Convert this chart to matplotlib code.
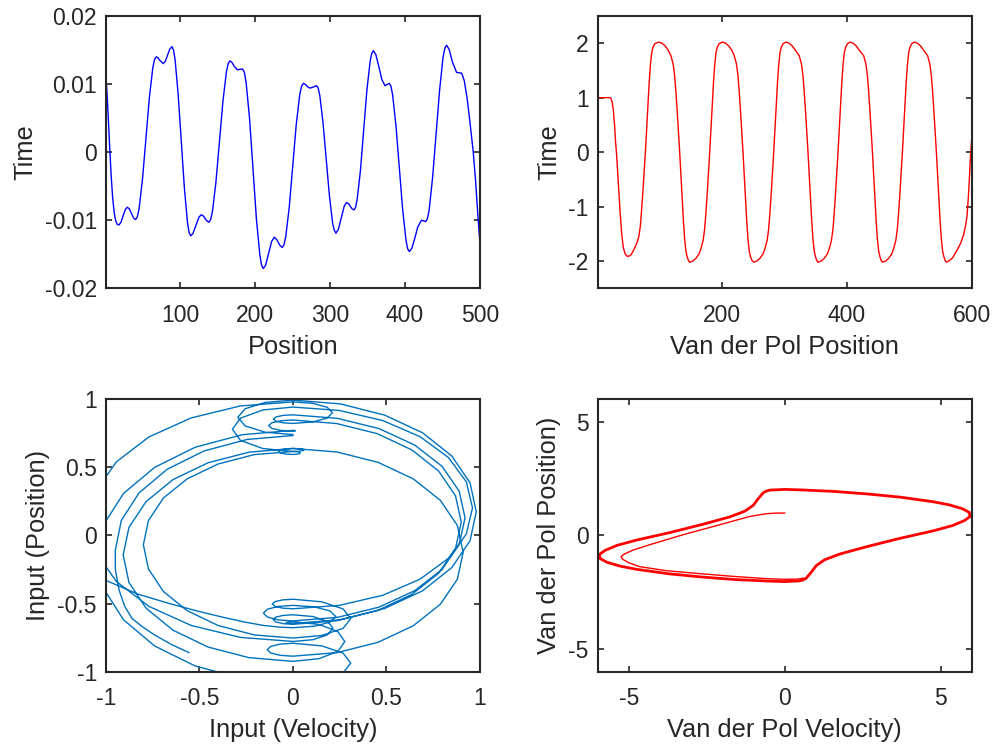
import matplotlib
matplotlib.use("Agg")
import matplotlib.pyplot as plt

plt.rcParams['font.family'] = ['Liberation Sans', 'DejaVu Sans']
plt.rcParams['axes.unicode_minus'] = False

# ---------------- data: top-left (blue time series) ----------------
tl_t = [1, 3, 5, 6.3, 8, 10, 12, 14, 16, 18.3,
        21, 24, 27, 29.4, 32, 35, 38, 40.6,
        42.9, 45.2, 49.8, 54.35, 58.9, 63.5, 65.8, 68.1,
        70.5, 73, 77.4, 80, 83, 86, 89,
        91.1, 93.2, 97.3, 101.5, 105.7, 109.8, 111.9, 114,
        117, 121, 125, 128.2, 131, 135, 138.4,
        140.7, 143.1, 147.7, 152.4, 157.1, 161.7, 164.1, 166.4,
        169, 172, 176.2, 180, 183.4,
        185.7, 188, 192.6, 197.15, 201.7, 206.3, 208.6, 210.9,
        214, 218, 222, 225.5, 229, 233, 236.2,
        238.5, 240.9, 245.6, 250.25, 254.9, 259.6, 262.0, 264.3,
        267, 270, 273.2, 277, 282,
        284.2, 286.3, 290.6, 294.9, 299.2, 303.5, 305.7, 307.8,
        311, 315, 319, 322.1, 325, 329, 331.9,
        334.1, 336.2, 340.5, 344.8, 349.1, 353.4, 355.5, 357.7,
        361, 365, 369, 373.3, 376, 379,
        381.2, 383.45, 387.9, 392.35, 396.8, 401.25, 403.5, 405.7,
        409, 413, 417, 422, 427.5,
        429.8, 432.2, 436.8, 441.5, 446.2, 450.8, 453.2, 455.5,
        459, 463, 468.8, 472, 475.6,
        479, 483, 487, 491, 494, 497, 500]
tl_v = [0.0112, 0.0075, 0.0028, 0.0, -0.0036, -0.0068, -0.0089, -0.0101, -0.0106, -0.0107,
        -0.0103, -0.0093, -0.0084, -0.0081, -0.0083, -0.0090, -0.0097, -0.0099,
        -0.0095, -0.0083, -0.0039, 0.0021, 0.0080, 0.0124, 0.0136, 0.0140,
        0.01385, 0.01346, 0.0130, 0.0133, 0.01418, 0.01509, 0.0155,
        0.0150, 0.0136, 0.0085, 0.0016, -0.0054, -0.0104, -0.0118, -0.0123,
        -0.01197, -0.01078, -0.00956, -0.0092, -0.00939, -0.01003, -0.0103,
        -0.0099, -0.0087, -0.0044, 0.0016, 0.0075, 0.0118, 0.0130, 0.0134,
        0.01319, 0.01261, 0.0121, 0.01215, 0.0122,
        0.0117, 0.0102, 0.0049, -0.0024, -0.0098, -0.0151, -0.0166, -0.0171,
        -0.01661, -0.0149, -0.01313, -0.0125, -0.01286, -0.01369, -0.0140,
        -0.0136, -0.0124, -0.0080, -0.0020, 0.0041, 0.0085, 0.0097, 0.0101,
        0.00995, 0.0096, 0.0094, 0.00954, 0.00975,
        0.0094, 0.0083, 0.0043, -0.0011, -0.0065, -0.0105, -0.0115, -0.0119,
        -0.01137, -0.00963, -0.0079, -0.0074, -0.00762, -0.00828, -0.0085,
        -0.0081, -0.0069, -0.0027, 0.0032, 0.0091, 0.0133, 0.0145, 0.0149,
        0.01435, 0.01258, 0.01068, 0.00975, 0.00992, 0.0101,
        0.0097, 0.0084, 0.0039, -0.0023, -0.0084, -0.0129, -0.0142, -0.0146,
        -0.01415, -0.01267, -0.01099, -0.0100, -0.0102,
        -0.0098, -0.0085, -0.0037, 0.0028, 0.0092, 0.0140, 0.0153, 0.0157,
        0.01505, 0.0133, 0.0117, 0.01165, 0.0116,
        0.0105, 0.0078, 0.0040, 0.0, -0.0040, -0.0090, -0.0135]

# ---------------- data: top-right (Van der Pol time series) ----------------
tr_t = [1, 10, 20, 22, 24, 26, 28, 29.8, 31, 33, 35, 37, 39.4, 42, 45, 48.5,
        53.5, 58.5, 63.4, 66.9, 69.4, 71.4, 73.4, 75.4, 77.4, 79.4, 81.4, 83.4, 85.4, 87.4, 89.4, 92.4, 99,
        104, 109, 114, 118.3, 121.8, 124.3, 126.3, 128.3, 130.3, 132.3, 134.3, 136.3, 138.3, 140.3, 142.3, 144.3, 146.3, 148.3,
        153.3, 158.3, 163.3, 166.4, 169.9, 172.4, 174.4, 176.4, 178.4, 180.4, 182.4, 184.4, 186.4, 188.4, 190.4, 192.4, 195.4, 200.8,
        205.8, 210.8, 215.8, 219.7, 223.2, 225.7, 227.7, 229.7, 231.7, 233.7, 235.7, 237.7, 239.7, 241.7, 243.7, 245.7, 248.2, 250.8,
        255.8, 260.8, 265.8, 268.9, 272.4, 274.9, 276.9, 278.9, 280.9, 282.9, 284.9, 286.9, 288.9, 290.9, 292.9, 294.9, 297.9, 302.5,
        307.5, 312.5, 317.5, 323.8, 327.3, 329.8, 331.8, 333.8, 335.8, 337.8, 339.8, 341.8, 343.8, 345.8, 347.8, 349.8, 351.8, 353.8,
        358.8, 363.8, 368.8, 371.9, 375.4, 377.9, 379.9, 381.9, 383.9, 385.9, 387.9, 389.9, 391.9, 393.9, 395.9, 397.9, 400.9, 405,
        410, 415, 420, 427, 430.5, 433, 435, 437, 439, 441, 443, 445, 447, 449, 451, 453, 455, 456.9,
        461.9, 466.9, 471.9, 475, 478.5, 481, 483, 485, 487, 489, 491, 493, 495, 497, 499, 501, 504, 508,
        513, 518, 523, 529.4, 532.9, 535.4, 537.4, 539.4, 541.4, 543.4, 545.4, 547.4, 549.4, 551.4, 553.4, 555.4, 557.4, 559.4,
        564.4, 569.4, 576.4, 582, 587, 590, 592.4, 594.5, 596.2, 597.7, 600]
tr_v = [1.0, 1.0, 1.0, 0.99, 0.93, 0.78, 0.50, 0.16, 0.0, -0.38, -0.76, -1.12, -1.50, -1.75, -1.87, -1.915,
        -1.90, -1.80, -1.68, -1.55, -1.35, -1.05, -0.72, -0.36, 0.0, 0.42, 0.86, 1.27, 1.60, 1.82, 1.92, 1.99, 2.02,
        2.00, 1.95, 1.87, 1.77, 1.62, 1.40, 1.10, 0.76, 0.38, 0.0, -0.42, -0.86, -1.27, -1.60, -1.82, -1.92, -1.99, -2.02,
        -2.00, -1.95, -1.87, -1.77, -1.62, -1.40, -1.10, -0.76, -0.38, 0.0, 0.42, 0.86, 1.27, 1.60, 1.82, 1.92, 1.99, 2.02,
        2.00, 1.95, 1.87, 1.77, 1.62, 1.40, 1.10, 0.76, 0.38, 0.0, -0.42, -0.86, -1.27, -1.60, -1.82, -1.92, -1.99, -2.02,
        -2.00, -1.95, -1.87, -1.77, -1.62, -1.40, -1.10, -0.76, -0.38, 0.0, 0.42, 0.86, 1.27, 1.60, 1.82, 1.92, 1.99, 2.02,
        2.00, 1.95, 1.87, 1.77, 1.62, 1.40, 1.10, 0.76, 0.38, 0.0, -0.42, -0.86, -1.27, -1.60, -1.82, -1.92, -1.99, -2.02,
        -2.00, -1.95, -1.87, -1.77, -1.62, -1.40, -1.10, -0.76, -0.38, 0.0, 0.42, 0.86, 1.27, 1.60, 1.82, 1.92, 1.99, 2.02,
        2.00, 1.95, 1.87, 1.77, 1.62, 1.40, 1.10, 0.76, 0.38, 0.0, -0.42, -0.86, -1.27, -1.60, -1.82, -1.92, -1.99, -2.02,
        -2.00, -1.95, -1.87, -1.77, -1.62, -1.40, -1.10, -0.76, -0.38, 0.0, 0.42, 0.86, 1.27, 1.60, 1.82, 1.92, 1.99, 2.02,
        2.00, 1.95, 1.87, 1.77, 1.62, 1.40, 1.10, 0.76, 0.38, 0.0, -0.42, -0.86, -1.27, -1.60, -1.82, -1.92, -1.99, -2.02,
        -1.99, -1.94, -1.80, -1.68, -1.52, -1.36, -1.18, -0.85, -0.50, -0.14, 0.25]

# ---------------- data: bottom-left (input phase portrait) ----------------
bl_vel = [-1.16, -1.35, -1.45, -1.43, -1.33, -1.18, -1.0, -0.83, -0.66, -0.51, -0.375, -0.26, -0.16, -0.07, 0.0,
          0.1145, 0.198, 0.229, 0.198, 0.1145, 0.0,
          -0.079, -0.137, -0.158, -0.137, -0.079, 0.0,
          0.238, 0.46, 0.651, 0.797, 0.889, 0.92, 0.889, 0.797, 0.651, 0.46, 0.238, 0.0,
          -0.0525, -0.091, -0.105, -0.091, -0.0525, 0.0,
          0.1055, 0.183, 0.211, 0.183, 0.1055, 0.0,
          -0.282, -0.545, -0.771, -0.944, -1.053, -1.09, -1.053, -0.944, -0.771, -0.545, -0.282, 0.0,
          0.107, 0.185, 0.214, 0.185, 0.107, 0.0,
          -0.053, -0.092, -0.106, -0.092, -0.053, 0.0,
          0.233, 0.45, 0.636, 0.779, 0.869, 0.90, 0.869, 0.779, 0.636, 0.45, 0.233, 0.0,
          -0.065, -0.113, -0.13, -0.113, -0.065, 0.0,
          0.007, 0.013, 0.007, 0.0,
          -0.271, -0.523, -0.740, -0.906, -1.010, -1.046, -1.010, -0.906, -0.740, -0.523, -0.271, 0.0,
          0.1545, 0.268, 0.309, 0.268, 0.1545, 0.0,
          -0.069, -0.1195, -0.138, -0.1195, -0.069, 0.0,
          0.236, 0.455, 0.643, 0.788, 0.879, 0.91, 0.879, 0.788, 0.643, 0.455, 0.236, 0.0,
          -0.0385, -0.0667, -0.077, -0.0667, -0.0385, 0.0,
          0.0195, 0.034, 0.039, 0.034, 0.0195, 0.0,
          -0.207, -0.40, -0.566, -0.693, -0.773, -0.80, -0.773, -0.693, -0.566, -0.40, -0.207, 0.0,
          0.1545, 0.268, 0.309, 0.268, 0.1545, 0.0,
          -0.0555, -0.096, -0.111, -0.096, -0.0555, 0.0,
          0.248, 0.48, 0.679, 0.831, 0.927, 0.96, 0.927, 0.831, 0.679, 0.48, 0.248, 0.0,
          -0.162, -0.281, -0.324, -0.281, -0.162, 0.0,
          0.03, 0.052, 0.06, 0.052, 0.03, 0.0,
          -0.235, -0.454, -0.642, -0.786, -0.877, -0.908, -0.877, -0.786, -0.642, -0.454, -0.235, 0.0,
          0.1385, 0.24, 0.277, 0.24, 0.1385, 0.0,
          -0.026, -0.037, -0.026, 0.0,
          0.254, 0.49, 0.693, 0.849, 0.947, 0.98, 0.947, 0.849, 0.693, 0.49, 0.254, 0.0,
          -0.1475, -0.2555, -0.295, -0.2555, -0.1475, 0.0,
          -0.01, 0.0,
          -0.246, -0.475, -0.672, -0.823, -0.918, -0.95, -0.95, -0.93, -0.90, -0.86, -0.80, -0.74, -0.65, -0.556]
bl_pos = [0.709, 0.52, 0.32, 0.14, -0.03, -0.19, -0.33, -0.43, -0.50, -0.555, -0.60, -0.635, -0.66, -0.673, -0.677,
          -0.666, -0.636, -0.595, -0.554, -0.524, -0.513,
          -0.5206, -0.5415, -0.570, -0.5985, -0.6194, -0.627,
          -0.601, -0.526, -0.405, -0.249, -0.066, 0.1295, 0.325, 0.508, 0.664, 0.785, 0.860, 0.886,
          0.8818, 0.8703, 0.8545, 0.8387, 0.8272, 0.823,
          0.8336, 0.8625, 0.902, 0.9415, 0.9704, 0.981,
          0.951, 0.863, 0.723, 0.541, 0.329, 0.1015, -0.126, -0.338, -0.520, -0.660, -0.748, -0.778,
          -0.765, -0.729, -0.68, -0.631, -0.595, -0.582,
          -0.5867, -0.5995, -0.617, -0.6345, -0.6473, -0.652,
          -0.626, -0.552, -0.432, -0.277, -0.096, 0.098, 0.292, 0.473, 0.628, 0.748, 0.822, 0.848,
          0.8425, 0.8275, 0.807, 0.7865, 0.7715, 0.766,
          0.767, 0.769, 0.771, 0.772,
          0.740, 0.648, 0.500, 0.309, 0.085, -0.155, -0.395, -0.619, -0.811, -0.958, -1.050, -1.082,
          -1.0625, -1.0093, -0.9365, -0.8637, -0.8105, -0.791,
          -0.7974, -0.8147, -0.8385, -0.8623, -0.8796, -0.886,
          -0.860, -0.784, -0.663, -0.505, -0.321, -0.1235, 0.074, 0.258, 0.416, 0.537, 0.613, 0.639,
          0.636, 0.628, 0.617, 0.606, 0.598, 0.595,
          0.5965, 0.6005, 0.606, 0.6115, 0.6155, 0.617,
          0.594, 0.525, 0.416, 0.275, 0.109, -0.068, -0.245, -0.411, -0.552, -0.661, -0.730, -0.753,
          -0.7339, -0.6818, -0.6105, -0.5392, -0.4871, -0.468,
          -0.4727, -0.4855, -0.503, -0.5205, -0.5333, -0.538,
          -0.513, -0.439, -0.321, -0.168, 0.011, 0.2025, 0.394, 0.573, 0.726, 0.844, 0.918, 0.943,
          0.9212, 0.8615, 0.78, 0.6985, 0.6388, 0.617,
          0.6185, 0.6225, 0.628, 0.6335, 0.6375, 0.639,
          0.612, 0.534, 0.410, 0.248, 0.060, -0.1425, -0.345, -0.533, -0.695, -0.819, -0.897, -0.924,
          -0.9045, -0.8513, -0.7785, -0.7057, -0.6525, -0.633,
          -0.636, -0.6395, -0.643, -0.646,
          -0.618, -0.536, -0.406, -0.236, -0.038, 0.174, 0.386, 0.584, 0.754, 0.884, 0.966, 0.994,
          0.9771, 0.9308, 0.8675, 0.8042, 0.7579, 0.741,
          0.737, 0.734,
          0.705, 0.621, 0.487, 0.313, 0.110, -0.108, -0.25, -0.40, -0.52, -0.61, -0.675, -0.73, -0.80, -0.86]

# ---------------- data: bottom-right (Van der Pol phase portrait) ----------------
br_tr_vel = [0.0, -0.30, -0.59, -1.12, -2.2, -3.27, -4.34, -4.9, -5.15, -5.25, -5.2, -5.0,
             -4.66, -3.8, -2.73, -1.66, -0.59, 0.0, 0.40, 0.60]
br_tr_pos = [0.99, 0.985, 0.96, 0.84, 0.43, 0.03, -0.41, -0.66, -0.82, -0.93, -1.05, -1.2,
             -1.37, -1.55, -1.68, -1.80, -1.90, -1.93, -1.92, -1.88]
br_cy_vel = [5.95, 5.92, 5.70, 5.28, 4.75, 3.70, 2.65, 1.60, 0.50, 0.0, -0.48, -0.60,
             -0.69, -0.85, -1.01, -1.28, -1.76, -2.61, -3.68, -4.75, -5.39, -5.77, -5.95,
             -5.92, -5.70, -5.28, -4.75, -3.70, -2.65, -1.60, -0.50, 0.0, 0.48, 0.60,
             0.69, 0.85, 1.01, 1.28, 1.76, 2.61, 3.68, 4.75, 5.39, 5.77, 5.95]
br_cy_pos = [0.84, 1.02, 1.18, 1.35, 1.49, 1.69, 1.83, 1.94, 2.01, 2.03, 2.00, 1.95,
             1.88, 1.62, 1.33, 1.07, 0.82, 0.50, 0.13, -0.20, -0.44, -0.66, -0.84,
             -1.02, -1.18, -1.35, -1.49, -1.69, -1.83, -1.94, -2.01, -2.03, -2.00, -1.95,
             -1.88, -1.62, -1.33, -1.07, -0.82, -0.50, -0.13, 0.20, 0.44, 0.66, 0.84]

# ---------------- figure ----------------
AX_COL = '#262626'
TICK_FS = 16.5
LAB_FS = 18.3

fig = plt.figure(figsize=(9.95, 7.49), dpi=100)


def style(ax):
    for s in ax.spines.values():
        s.set_color(AX_COL)
        s.set_linewidth(1.5)
    ax.tick_params(direction='in', length=4.5, width=1.2, colors=AX_COL,
                   top=True, right=True, labelsize=TICK_FS)
    ax.tick_params(axis='x', pad=11)
    ax.tick_params(axis='y', pad=6.5)


ax1 = fig.add_axes([0.1065, 0.6151, 0.3759, 0.3636])
ax1.plot(tl_t, tl_v, color='#0000FF', lw=1.0)
ax1.set_xlim(1, 500)
ax1.set_ylim(-0.02, 0.02)
ax1.set_xticks([100, 200, 300, 400, 500])
ax1.set_xticklabels(['100', '200', '300', '400', '500'])
ax1.set_yticks([-0.02, -0.01, 0, 0.01, 0.02])
ax1.set_yticklabels(['-0.02', '-0.01', '0', '0.01', '0.02'])
ax1.set_xlabel('Position', fontsize=LAB_FS, color=AX_COL, labelpad=6)
ax1.set_ylabel('Time', fontsize=LAB_FS, color=AX_COL, labelpad=5)
style(ax1)

ax2 = fig.add_axes([0.6007, 0.6151, 0.3759, 0.3636])
ax2.plot(tr_t, tr_v, color='#FF0000', lw=1.0)
ax2.set_xlim(1, 600)
ax2.set_ylim(-2.5, 2.5)
ax2.set_xticks([200, 400, 600])
ax2.set_xticklabels(['200', '400', '600'])
ax2.set_yticks([-2, -1, 0, 1, 2])
ax2.set_yticklabels(['-2', '-1', '0', '1', '2'])
ax2.set_xlabel('Van der Pol Position', fontsize=LAB_FS, color=AX_COL, labelpad=6)
ax2.set_ylabel('Time', fontsize=LAB_FS, color=AX_COL, labelpad=5)
style(ax2)

ax3 = fig.add_axes([0.1065, 0.1032, 0.3759, 0.3637])
ax3.plot(bl_vel, bl_pos, color='#0072BD', lw=1.0)
ax3.set_xlim(-1, 1)
ax3.set_ylim(-1, 1)
ax3.set_xticks([-1, -0.5, 0, 0.5, 1])
ax3.set_xticklabels(['-1', '-0.5', '0', '0.5', '1'])
ax3.set_yticks([-1, -0.5, 0, 0.5, 1])
ax3.set_yticklabels(['-1', '-0.5', '0', '0.5', '1'])
ax3.set_xlabel('Input (Velocity)', fontsize=LAB_FS, color=AX_COL, labelpad=6)
ax3.set_ylabel('Input (Position)', fontsize=LAB_FS, color=AX_COL, labelpad=5)
style(ax3)

ax4 = fig.add_axes([0.6007, 0.1032, 0.3759, 0.3637])
ax4.plot(br_cy_vel, br_cy_pos, color='#FF0000', lw=2.0)
ax4.plot(br_tr_vel, br_tr_pos, color='#FF0000', lw=1.0)
ax4.set_xlim(-6, 6)
ax4.set_ylim(-6, 6)
ax4.set_xticks([-5, 0, 5])
ax4.set_xticklabels(['-5', '0', '5'])
ax4.set_yticks([-5, 0, 5])
ax4.set_yticklabels(['-5', '0', '5'])
ax4.set_xlabel('Van der Pol Velocity)', fontsize=LAB_FS, color=AX_COL, labelpad=6)
ax4.set_ylabel('Van der Pol Position)', fontsize=LAB_FS, color=AX_COL, labelpad=5)
style(ax4)

fig.savefig('out.png', dpi=100)
